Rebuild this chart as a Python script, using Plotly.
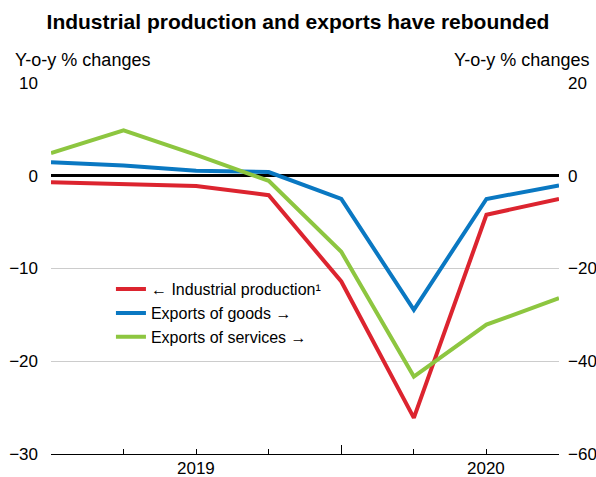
import plotly.graph_objects as go

quarters = [0, 1, 2, 3, 4, 5, 6, 7]
industrial = [-0.7, -0.9, -1.1, -2.1, -11.4, -26.1, -4.2, -2.5]
goods = [2.9, 2.2, 1.1, 0.8, -5.0, -28.9, -5.0, -2.1]
services = [4.9, 9.8, 4.5, -1.1, -16.4, -43.3, -32.1, -26.4]
year_labels = ["2019", "2020"]
year_pos = [2, 6]

RED = "#dc242f"
BLUE = "#0a78c2"
GREEN = "#8dc640"
FONT = "Liberation Sans, Arial, sans-serif"

fig = go.Figure()
fig.add_trace(go.Scatter(x=quarters, y=industrial, mode="lines", name="← Industrial production¹",
                         line=dict(color=RED, width=4), yaxis="y"))
fig.add_trace(go.Scatter(x=quarters, y=goods, mode="lines", name="Exports of goods →",
                         line=dict(color=BLUE, width=4), yaxis="y2"))
fig.add_trace(go.Scatter(x=quarters, y=services, mode="lines", name="Exports of services →",
                         line=dict(color=GREEN, width=4), yaxis="y2"))

annotations = [
    dict(text="Y-o-y % changes", x=0, xref="paper", xanchor="left", xshift=-38,
         y=1, yref="paper", yanchor="bottom", yshift=11, showarrow=False,
         font=dict(size=18, color="black", family=FONT)),
    dict(text="Y-o-y % changes", x=1, xref="paper", xanchor="right", xshift=32,
         y=1, yref="paper", yanchor="bottom", yshift=11, showarrow=False,
         font=dict(size=18, color="black", family=FONT)),
]
for lbl, pos in zip(year_labels, year_pos):
    annotations.append(dict(text=lbl, x=pos, xref="x", y=0, yref="paper", yanchor="top",
                            yshift=-3, showarrow=False,
                            font=dict(size=17, color="black", family=FONT)))

fig.update_layout(
    width=596, height=477,
    margin=dict(l=51, r=37, t=83, b=23),
    paper_bgcolor="white", plot_bgcolor="white",
    font=dict(family=FONT, size=17, color="black"),
    title=dict(text="<b>Industrial production and exports have rebounded</b>",
               x=0.5, xanchor="center", y=0.955, yanchor="middle",
               font=dict(size=21, color="black", family=FONT)),
    xaxis=dict(range=[0, 7], tickvals=[0, 4, 7], ticks="inside", ticklen=9,
               tickcolor="black", tickwidth=1, showticklabels=False,
               showline=True, linecolor="black", linewidth=1, showgrid=False, zeroline=False,
               automargin=False,
               minor=dict(tickvals=[1, 2, 3, 5, 6], ticks="inside", ticklen=5,
                          tickcolor="black", tickwidth=1, showgrid=False)),
    yaxis=dict(range=[-30, 10], dtick=10, showgrid=True, gridcolor="#cccccc", gridwidth=1,
               zeroline=True, zerolinecolor="black", zerolinewidth=2.5, automargin=False,
               ticks="", showline=False, tickfont=dict(size=17), ticklabelstandoff=12),
    yaxis2=dict(range=[-60, 20], dtick=20, overlaying="y", side="right", showgrid=False,
                zeroline=False, ticks="", showline=False, tickfont=dict(size=17),
                ticklabelstandoff=8, automargin=False),
    legend=dict(x=0.118, y=0.49, xanchor="left", yanchor="top", bgcolor="rgba(0,0,0,0)",
                font=dict(size=16, family=FONT), tracegroupgap=0),
    showlegend=True,
    annotations=annotations,
)

fig.write_html("out.html")
